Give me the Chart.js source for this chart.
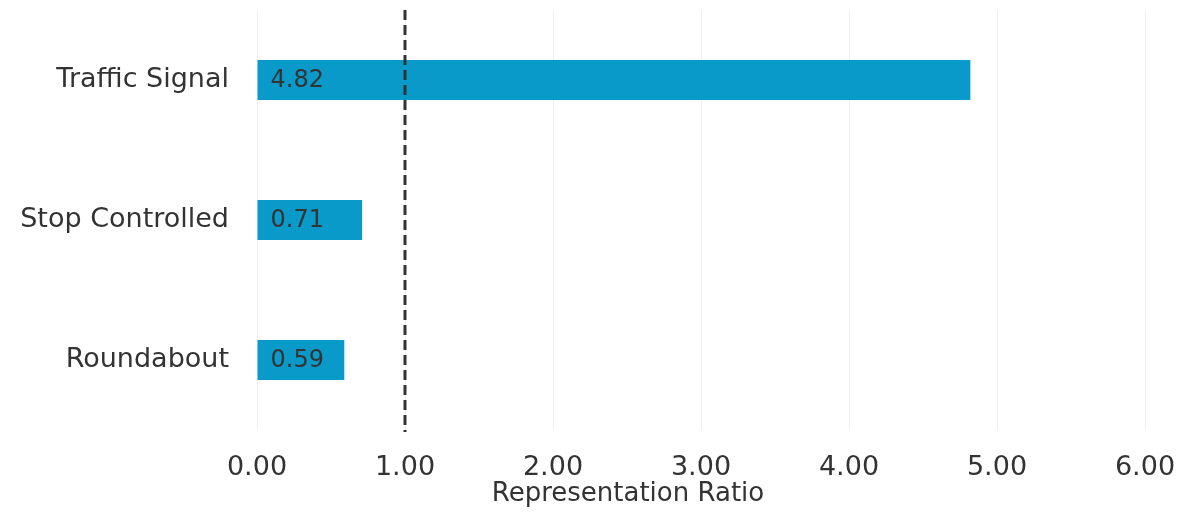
<!DOCTYPE html>
<html><head><meta charset="utf-8">
<script src="https://cdn.jsdelivr.net/npm/chart.js@4.4.0/dist/chart.umd.min.js"></script>
<style>html,body{margin:0;padding:0;background:#fff}#wrap{width:1182px;height:513px}</style>
</head><body><div id="wrap"><canvas id="c" width="1182" height="513"></canvas></div>
<script>
const categories = ["Traffic Signal", "Stop Controlled", "Roundabout"];
const ratios = [4.82, 0.71, 0.59];
const valueLabels = ["4.82", "0.71", "0.59"];
const referenceValue = 1.0;
const axisTitle = "Representation Ratio";
const FONT = "'DejaVu Sans', sans-serif";

const overlay = {
  id: 'overlay',
  afterDatasetsDraw(chart) {
    const ctx = chart.ctx, x = chart.scales.x, a = chart.chartArea;
    const meta = chart.getDatasetMeta(0);
    ctx.save();
    ctx.font = "24px " + FONT;
    ctx.fillStyle = '#333';
    ctx.textBaseline = 'middle';
    ctx.textAlign = 'left';
    meta.data.forEach((bar, i) => {
      ctx.fillText(valueLabels[i], bar.base + 13, bar.y + 1);
    });
    const px = x.getPixelForValue(referenceValue);
    ctx.strokeStyle = '#333';
    ctx.lineWidth = 3;
    ctx.setLineDash([10, 5]);
    ctx.beginPath();
    ctx.moveTo(px, a.top);
    ctx.lineTo(px, a.bottom + 2);
    ctx.stroke();
    ctx.setLineDash([]);
    ctx.font = "26px " + FONT;
    ctx.fillStyle = '#333';
    ctx.textAlign = 'center';
    ctx.textBaseline = 'middle';
    ctx.fillText(axisTitle, 628, 494);
    ctx.restore();
  }
};

new Chart(document.getElementById('c'), {
  type: 'bar',
  data: {
    labels: categories,
    datasets: [{
      data: ratios,
      backgroundColor: '#0A9ACA',
      barPercentage: 0.286,
      categoryPercentage: 1.0
    }]
  },
  options: {
    indexAxis: 'y',
    responsive: false,
    animation: false,
    layout: { padding: { top: 10, right: 37, left: 0, bottom: 0 } },
    plugins: { legend: { display: false }, tooltip: { enabled: false } },
    scales: {
      x: {
        min: 0, max: 6,
        ticks: { stepSize: 1, color: '#333', font: { family: FONT, size: 27 }, padding: 22,
                 callback: v => Number(v).toFixed(2), maxRotation: 0 },
        grid: { color: '#f0f0f0', drawTicks: false },
        border: { display: false },
        afterFit(s) { s.height = 83; s.paddingLeft = 0; s.paddingRight = 0; }
      },
      y: {
        ticks: { color: '#333', font: { family: FONT, size: 27 }, padding: 20 },
        grid: { display: false },
        border: { display: false },
        afterFit(s) { s.width = 257; s.paddingTop = 0; s.paddingBottom = 0; }
      }
    }
  },
  plugins: [overlay]
});
</script></body></html>
